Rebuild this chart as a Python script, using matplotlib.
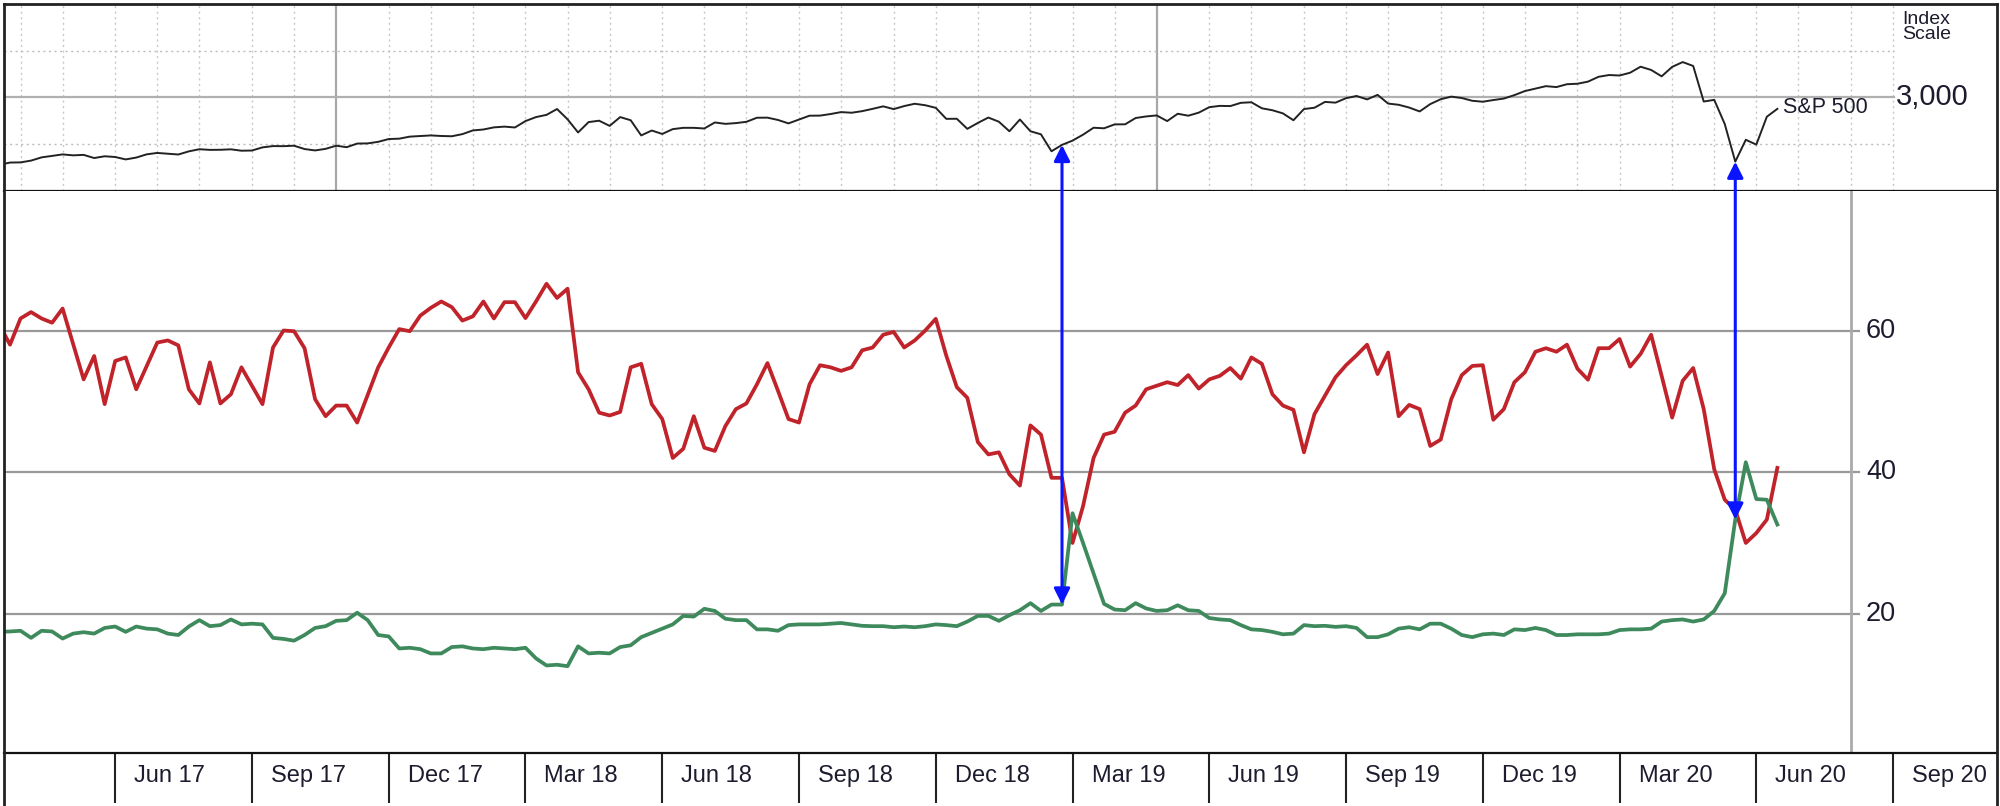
import matplotlib
matplotlib.use('Agg')
import matplotlib.pyplot as plt
import matplotlib.dates as mdates
import matplotlib.transforms as mtransforms
from matplotlib.patches import ConnectionPatch
from matplotlib.lines import Line2D
import pandas as pd
import numpy as np

plt.rcParams['font.family'] = ['Liberation Sans', 'DejaVu Sans']

# weekly closes, Fridays from 20 Jan 2017 to 17 Apr 2020
dates = pd.date_range('2017-01-20', periods=170, freq='W-FRI')

sp500 = [2271, 2295, 2297, 2316, 2351, 2367, 2383, 2373, 2378, 2344, 2363, 2355, 2329, 2349, 2384, 2399, 2391,
         2382, 2416, 2439, 2432, 2433, 2438, 2423, 2425, 2459, 2473, 2472, 2477, 2441, 2426, 2443, 2477, 2461,
         2500, 2502, 2519, 2549, 2553, 2575, 2581, 2588, 2582, 2579, 2602, 2642, 2652, 2675, 2683, 2674,
         2743, 2786, 2810, 2873, 2762, 2620, 2732, 2747, 2691, 2786, 2752, 2588, 2641, 2604, 2656, 2670, 2670,
         2663, 2728, 2713, 2721, 2735, 2779, 2780, 2755, 2718, 2760, 2801, 2802, 2819, 2840, 2833, 2850, 2875,
         2902, 2872, 2905, 2930, 2914, 2886, 2767, 2768, 2659, 2723, 2781, 2736, 2633, 2760, 2633, 2600, 2417, 2486,
         2532, 2596, 2671, 2665, 2707, 2708, 2776, 2793, 2804, 2743, 2822, 2801, 2834, 2893, 2907, 2905, 2940,
         2946, 2881, 2860, 2826, 2752, 2873, 2887, 2950, 2942, 2990, 3014, 2977, 3026, 2932, 2919, 2889, 2847,
         2926, 2979, 3007, 2992, 2962, 2952, 2970, 2986, 3023, 3067, 3093, 3120, 3110, 3141, 3146, 3169, 3221, 3240,
         3235, 3265, 3330, 3295, 3226, 3328, 3380, 3338, 2954, 2972, 2711, 2305, 2541, 2489, 2790, 2875]

red_line = [60.8, 58.0, 61.7, 62.6, 61.7, 61.1, 63.1, 58.1, 53.1, 56.4, 49.6, 55.7, 56.2, 51.7, 55.0, 58.3, 58.6,
            57.9, 51.7, 49.7, 55.5, 49.7, 51.0, 54.8, 52.2, 49.6, 57.6, 60.0, 59.9, 57.5, 50.3, 47.9, 49.4, 49.4,
            47.0, 50.9, 54.8, 57.6, 60.2, 59.9, 62.1, 63.2, 64.1, 63.3, 61.4, 62.0, 64.1, 61.7, 64.0, 64.0, 61.75,
            64.1, 66.6, 64.6, 65.9, 54.1, 51.7, 48.4, 48.0, 48.5, 54.8, 55.3, 49.6, 47.5, 42.0, 43.3, 47.9, 43.45,
            43.0, 46.5, 48.9, 49.7, 52.4, 55.4, 51.5, 47.5, 47.0, 52.4, 55.1, 54.8, 54.3, 54.8, 57.2, 57.6, 59.4,
            59.8, 57.6, 58.6, 60.0, 61.65, 56.45, 52.0, 50.5, 44.25, 42.5, 42.8, 39.7, 38.1, 46.6, 45.3, 39.2, 39.2,
            30.0, 35.2, 42.0, 45.3, 45.7, 48.4, 49.4, 51.7, 52.2, 52.7, 52.3, 53.7, 51.8, 53.1, 53.6, 54.7, 53.2,
            56.2, 55.3, 51.0, 49.4, 48.8, 42.8, 48.2, 50.8, 53.4, 55.1, 56.5, 58.0, 53.85, 56.9, 47.9, 49.5, 48.9,
            43.7, 44.6, 50.3, 53.7, 55.0, 55.1, 47.4, 48.9, 52.7, 54.1, 57.0, 57.5, 57.0, 58.0, 54.6, 53.05, 57.5,
            57.5, 58.8, 54.9, 56.7, 59.4, 53.6, 47.7, 52.9, 54.7, 48.9, 40.4, 36.1, 34.7, 30.0, 31.4, 33.3, 40.6]

green_line = [17.45, 17.5, 17.6, 16.6, 17.6, 17.5, 16.5, 17.2, 17.4, 17.2, 18.0, 18.2, 17.45, 18.2, 17.9, 17.8, 17.2,
              17.0, 18.2, 19.1, 18.25, 18.4, 19.2, 18.5, 18.6, 18.5, 16.6, 16.45, 16.2, 17.0, 18.0, 18.25, 19.0,
              19.1, 20.15, 19.1, 17.0, 16.8, 15.1, 15.2, 15.0, 14.4, 14.4, 15.3, 15.4, 15.1, 15.0, 15.2, 15.1, 15.0,
              15.2, 13.7, 12.7, 12.8, 12.6, 15.4, 14.4, 14.5, 14.4, 15.3, 15.55, 16.7, 17.3, 17.9, 18.5, 19.7, 19.6,
              20.7, 20.4, 19.3, 19.1, 19.1, 17.8, 17.8, 17.6, 18.4, 18.5, 18.5, 18.5, 18.6, 18.7, 18.5, 18.3, 18.25,
              18.25, 18.1, 18.2, 18.1, 18.25, 18.5, 18.4, 18.25, 18.9, 19.7, 19.7, 19.0, 19.8, 20.5, 21.5, 20.4,
              21.3, 21.3, 34.2, 30.0, 25.7, 21.4, 20.6, 20.5, 21.5, 20.75, 20.4, 20.5, 21.2, 20.5, 20.4, 19.4, 19.2,
              19.1, 18.4, 17.8, 17.7, 17.45, 17.1, 17.2, 18.4, 18.25, 18.3, 18.15, 18.25, 18.0, 16.7, 16.7, 17.1,
              17.9, 18.1, 17.8, 18.6, 18.6, 17.9, 17.0, 16.7, 17.1, 17.2, 17.0, 17.8, 17.7, 18.0, 17.7, 17.0, 17.0,
              17.1, 17.1, 17.1, 17.2, 17.7, 17.8, 17.8, 17.9, 18.9, 19.1, 19.2, 18.9, 19.2, 20.4, 22.9, 33.3, 41.4,
              36.2, 36.1, 32.6]

tick_labels = ['Jun 17', 'Sep 17', 'Dec 17', 'Mar 18', 'Jun 18', 'Sep 18', 'Dec 18',
               'Mar 19', 'Jun 19', 'Sep 19', 'Dec 19', 'Mar 20', 'Jun 20', 'Sep 20']
arrow_dates = ['2018-12-28', '2020-03-20']

RED = '#c0232a'
GREEN = '#3e8a5c'
TXT = '#1c1c2e'

W, H = 2000, 806
fig = plt.figure(figsize=(20, 8.06), dpi=100)

def fy(py):
    return 1 - py / H

L, R = 4, 1997
ax_top = fig.add_axes([L / W, fy(191), (R - L) / W, (191 - 4) / H])
ax_bot = fig.add_axes([L / W, fy(753), (R - L) / W, (753 - 191) / H])

# pixel -> date scale (10.52 px per week, first full week at x=10)
x0 = mdates.date2num(pd.Timestamp('2017-01-27'))
px_day = 10.52 / 7
def xpx(px):
    return x0 + (px - 10) / px_day

xnum = mdates.date2num(dates.to_pydatetime())
for ax in (ax_top, ax_bot):
    ax.set_xlim(xpx(L), xpx(R))
    ax.set_yticks([])
    for s in ax.spines.values():
        s.set_visible(False)

month_lines = pd.date_range('2017-02-01', '2020-07-31', freq='WOM-1FRI')
quarter_lines = pd.date_range('2017-04-01', '2020-07-31', freq='WOM-1FRI')[::3]
solid_months = [pd.Timestamp('2017-09-01'), pd.Timestamp('2019-03-01')]

# ---- top panel: S&P 500
ax_top.set_ylim(1988, 4007)
ax_top.set_xticks([])
top_end = (1894 - L) / (R - L)
for d in month_lines:
    if d in solid_months:
        ax_top.axvline(mdates.date2num(d), color='#a8a8a8', lw=1.6, zorder=1)
    else:
        ax_top.axvline(mdates.date2num(d), color='#c8c8c8', lw=1.0, ls=(0, (1.5, 2.5)), zorder=1)
for lvl in [2500, 3500]:
    ax_top.axhline(lvl, xmax=top_end, color='#bdbdbd', lw=1.0, ls=(0, (1.5, 2.5)), zorder=1)
ax_top.axhline(3000, xmax=top_end, color='#b0b0b0', lw=1.6, zorder=1)
ax_top.plot(xnum, sp500, color='#222222', lw=1.4, zorder=3)
ax_top.annotate('S&P 500', (xnum[-1], sp500[-1]), xytext=(4, 1), textcoords='offset points',
                ha='left', va='center', fontsize=15.5, color=TXT)
ax_top.text(xpx(1896), 3000, '3,000', ha='left', va='center', fontsize=21, color=TXT)
ax_top.text(xpx(1902), 3935, 'Index\nScale', ha='left', va='top', fontsize=14,
            color=TXT, linespacing=0.88)
ax_top.spines['bottom'].set_visible(True)
ax_top.spines['bottom'].set_color('#111111')
ax_top.spines['bottom'].set_linewidth(1.6)

# ---- bottom panel
ax_bot.set_ylim(0.34, 79.7)
bot_end = (1859 - L) / (R - L)
for lvl in [20, 40, 60]:
    ax_bot.axhline(lvl, xmax=bot_end, color='#999999', lw=1.6, zorder=1)
    ax_bot.text(xpx(1866), lvl, str(lvl), ha='left', va='center', fontsize=19.5, color=TXT)
ax_bot.axvline(mdates.date2num(pd.Timestamp('2020-06-05')), color='#aaaaaa', lw=2, zorder=1)
ax_bot.plot(xnum, red_line, color=RED, lw=2.7, zorder=3)
ax_bot.plot(xnum, green_line, color=GREEN, lw=2.7, zorder=3)

ax_bot.spines['bottom'].set_visible(True)
ax_bot.spines['bottom'].set_color('#111111')
ax_bot.spines['bottom'].set_linewidth(1.6)
qnum = mdates.date2num(quarter_lines.to_pydatetime())
ax_bot.set_xticks(qnum)
ax_bot.tick_params(axis='x', direction='out', length=36, width=1.5, color='#222222', labelbottom=False)
trans = mtransforms.blended_transform_factory(ax_bot.transData, ax_bot.transAxes)
for q, lab in zip(qnum, tick_labels):
    ax_bot.text(q + 19 / px_day, -23 / 562, lab, transform=trans, ha='left', va='center',
                fontsize=17, color=TXT)

# ---- arrows linking lows
sp_s = pd.Series(sp500, index=dates)
gr_s = pd.Series(green_line, index=dates)
for ad in arrow_dates:
    d = pd.Timestamp(ad)
    xd = mdates.date2num(d)
    con = ConnectionPatch(xyA=(xd, sp_s[d]), coordsA=ax_top.transData,
                          xyB=(xd, gr_s[d]), coordsB=ax_bot.transData,
                          arrowstyle='<|-|>,head_length=0.6,head_width=0.3',
                          mutation_scale=16, color='#0a14ff', lw=2.2, shrinkA=0, shrinkB=0, zorder=10)
    fig.add_artist(con)

# outer frame
fig.add_artist(Line2D([L / W, L / W], [0, fy(4)], color='#222222', lw=2))
fig.add_artist(Line2D([R / W, R / W], [0, fy(4)], color='#222222', lw=2))
fig.add_artist(Line2D([L / W, R / W], [fy(4), fy(4)], color='#222222', lw=2))

fig.savefig('out.png', dpi=100, facecolor='white')
